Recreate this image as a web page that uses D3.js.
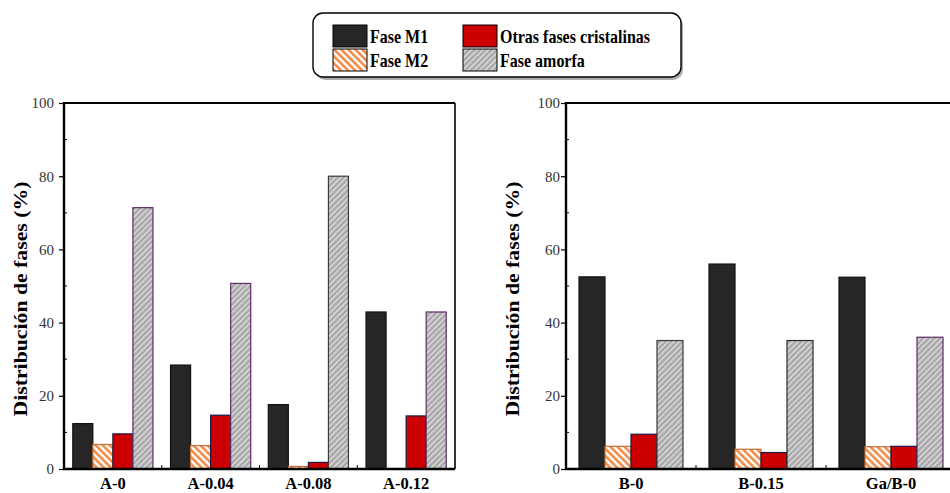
<!DOCTYPE html>
<html>
<head>
<meta charset="utf-8">
<script src="https://cdn.jsdelivr.net/npm/d3@7"></script>
<style>
  html, body { margin: 0; padding: 0; background: #fff; }
  svg { display: block; }
</style>
</head>
<body>
<svg id="chart" width="950" height="493"></svg>
<script>
// Phase distribution (%) per sample, two sample families
const seriesNames = ["Fase M1", "Fase M2", "Otras fases cristalinas", "Fase amorfa"];

const categoriesA = ["A-0", "A-0.04", "A-0.08", "A-0.12"];
const faseM1A   = [12.4, 28.4, 17.6, 42.9];
const faseM2A   = [6.7, 6.4, 0.7, 0];
const otrasA    = [9.6, 14.7, 1.8, 14.5];
const amorfaA   = [71.4, 50.7, 80.0, 42.9];

const categoriesB = ["B-0", "B-0.15", "Ga/B-0"];
const faseM1B   = [52.5, 56.0, 52.4];
const faseM2B   = [6.2, 5.4, 6.1];
const otrasB    = [9.5, 4.5, 6.2];
const amorfaB   = [35.1, 35.1, 36.0];

const yTicks = [0, 20, 40, 60, 80, 100];
const yMinorTicks = [10, 30, 50, 70, 90];
const yTitle = "Distribución de fases (%)";

const FONT = '"Liberation Serif", "Times New Roman", Tinos, serif';

const svg = d3.select("#chart");
const defs = svg.append("defs");

// Hatch fills
function stripes(id, bg, fg, angle, size, stripeW) {
  const p = defs.append("pattern")
    .attr("id", id).attr("patternUnits", "userSpaceOnUse")
    .attr("width", size).attr("height", size)
    .attr("patternTransform", `rotate(${angle})`);
  p.append("rect").attr("width", size).attr("height", size).attr("fill", bg);
  p.append("rect").attr("width", stripeW).attr("height", size).attr("fill", fg);
}
stripes("hatchM2", "#ffffff", "#f28a45", -45, 5, 2.6);
stripes("hatchAm", "#a9a9a9", "#e2e2e2", 45, 4, 1.3);

const fills = ["#262626", "url(#hatchM2)", "#cc0000", "url(#hatchAm)"];
const strokes = ["#101010", "#c0703a", "#1b1a4a", "#5d2a66"];
const amorfaStrokeA = ["#5d2a66", "#5d2a66", "#3a3a3a", "#5d2a66"];
const amorfaStrokeB = ["#3a3a3a", "#2a2a2a", "#5d2a66"];

function panel(opt) {
  const { x0, x1, yTop, yBot, cats, series, pad, amStroke, tickGap, titleX } = opt;
  const g = svg.append("g");

  const y = d3.scaleLinear().domain([0, 100]).range([yBot, yTop]);
  const x = d3.scaleBand().domain(cats).range([x0, x1])
    .paddingInner(pad).paddingOuter(pad / 2);
  const xs = d3.scaleBand().domain(d3.range(series.length))
    .range([0, x.bandwidth()]).padding(0);

  const rows = cats.map((c, i) => series.map((s, k) => ({ c, k, v: s[i], i })));

  g.selectAll("g.grp").data(rows).join("g")
    .attr("transform", d => `translate(${x(d[0].c)},0)`)
    .selectAll("rect").data(d => d.filter(e => e.v > 0)).join("rect")
    .attr("x", d => xs(d.k))
    .attr("y", d => y(d.v))
    .attr("width", xs.bandwidth())
    .attr("height", d => y(0) - y(d.v))
    .attr("fill", d => fills[d.k])
    .attr("stroke", d => d.k === 3 ? amStroke[d.i] : strokes[d.k])
    .attr("stroke-width", 1.2);

  // frame: top and right edges
  g.append("line").attr("x1", x0).attr("x2", x1).attr("y1", yTop).attr("y2", yTop)
    .attr("stroke", "#000").attr("stroke-width", 2.2);
  g.append("line").attr("x1", x1).attr("x2", x1).attr("y1", yTop).attr("y2", yBot)
    .attr("stroke", "#000").attr("stroke-width", 1.6);

  // y axis
  const ya = g.append("g").attr("transform", `translate(${x0},0)`)
    .call(d3.axisLeft(y).tickValues(yTicks).tickSize(5).tickPadding(tickGap).tickFormat(d3.format("d")));
  ya.select(".domain").attr("stroke-width", 2.4).attr("d", `M0,${yTop - 1}V${yBot + 1}`);
  ya.selectAll(".tick line").attr("stroke-width", 1.2);
  ya.selectAll(".tick text").attr("font-size", 15).attr("fill", "#333");
  g.append("g").attr("transform", `translate(${x0},0)`)
    .selectAll("line").data(yMinorTicks).join("line")
    .attr("x1", 0).attr("x2", 3).attr("y1", d => y(d)).attr("y2", d => y(d))
    .attr("stroke", "#000").attr("stroke-width", 1);

  // x axis
  const xa = g.append("g").attr("transform", `translate(0,${yBot})`)
    .call(d3.axisBottom(x).tickSize(0).tickPadding(8));
  xa.select(".domain").attr("stroke-width", 2.4).attr("d", `M${x0 - 1},0H${x1}`);
  xa.selectAll(".tick text").attr("font-size", 16.5).attr("font-weight", "bold")
    .attr("fill", "#000");
  const step = x.step();
  g.selectAll("line.sep").data(d3.range(1, cats.length)).join("line")
    .attr("x1", i => x0 + i * step).attr("x2", i => x0 + i * step)
    .attr("y1", yBot).attr("y2", yBot - 4)
    .attr("stroke", "#000").attr("stroke-width", 1);

  // y title
  g.append("text")
    .attr("transform", `translate(${titleX},${(yTop + yBot) / 2 + 13}) rotate(-90)`)
    .attr("text-anchor", "middle")
    .attr("font-size", 18.5).attr("font-weight", "bold")
    .attr("textLength", 235).attr("lengthAdjust", "spacingAndGlyphs")
    .text(yTitle);
}

panel({ x0: 64, x1: 455, yTop: 103, yBot: 469, cats: categoriesA,
  series: [faseM1A, faseM2A, otrasA, amorfaA], pad: 0.18,
  amStroke: amorfaStrokeA, tickGap: 5, titleX: 27 });
panel({ x0: 566, x1: 956, yTop: 103, yBot: 469, cats: categoriesB,
  series: [faseM1B, faseM2B, otrasB, amorfaB], pad: 0.2,
  amStroke: amorfaStrokeB, tickGap: 1, titleX: 519 });

// Legend
const lg = svg.append("g");
lg.append("rect").attr("x", 315).attr("y", 15).attr("width", 368).attr("height", 65)
  .attr("rx", 10).attr("fill", "#777").attr("opacity", 0.6);
lg.append("rect").attr("x", 313).attr("y", 13).attr("width", 368).attr("height", 64)
  .attr("rx", 10).attr("fill", "#fff").attr("stroke", "#000").attr("stroke-width", 1.4);
const legendPos = [[333, 25], [333, 49], [463, 25], [463, 49]];
const legendOrder = [0, 1, 2, 3];
legendOrder.forEach((k, j) => {
  const [lx, ly] = legendPos[j];
  lg.append("rect").attr("x", lx).attr("y", ly).attr("width", 34).attr("height", 22)
    .attr("fill", fills[k]).attr("stroke", "#000").attr("stroke-width", 1);
  lg.append("text")
    .attr("transform", `translate(${lx + 37},${ly + 18}) scale(1,1.2)`)
    .attr("font-size", 16).attr("font-weight", "bold").text(seriesNames[k]);
});

// serif typeface for every label
svg.selectAll("text").style("font-family", FONT);
</script>
</body>
</html>
